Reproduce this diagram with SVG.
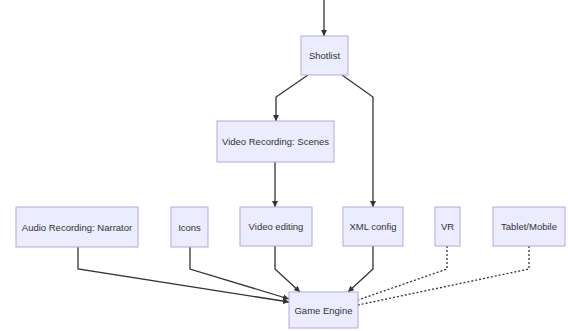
<svg xmlns="http://www.w3.org/2000/svg" width="568" height="331" viewBox="0 0 568 331">
<style>
.node rect{fill:#ECECFF;stroke:#B5A6E6;stroke-width:1}
.node text{font-family:"Liberation Sans",Arial,sans-serif;font-size:9.5px;fill:#333;text-anchor:middle;dominant-baseline:central}
.edge{fill:none;stroke:#333;stroke-width:1.3}
.dash{stroke-dasharray:2,2}
</style>
<defs>
<marker id="arr" viewBox="0 0 10 10" refX="10" refY="5" markerWidth="6" markerHeight="6" orient="auto" markerUnits="userSpaceOnUse">
<path d="M0,0 L10,5 L0,10 z" fill="#333"/>
</marker>
</defs>
<rect width="568" height="331" fill="#fff"/>
<g id="connectors">
<path class="edge" d="M324,0 L324,36" marker-end="url(#arr)"/>
<path class="edge" d="M308,75 L276,97 L276,121" marker-end="url(#arr)"/>
<path class="edge" d="M342,75 L373,97 L373,207" marker-end="url(#arr)"/>
<path class="edge" d="M275,162 L275,207" marker-end="url(#arr)"/>
<path class="edge" d="M78,247 L78,269 L289,302" marker-end="url(#arr)"/>
<path class="edge" d="M190,247 L190,269 L289,299" marker-end="url(#arr)"/>
<path class="edge" d="M275,246 L275,269 L300,292" marker-end="url(#arr)"/>
<path class="edge" d="M373,246 L373,269 L348,292" marker-end="url(#arr)"/>
<path class="edge dash" d="M447,246 L447,269 L358,300"/>
<path class="edge dash" d="M529,246 L529,269 L358,305"/>
</g>
<g id="shotlist" class="node"><rect x="301" y="36" width="47" height="39"/><text x="324.5" y="55.5">Shotlist</text></g>
<g id="videoRecording" class="node"><rect x="217" y="121" width="117" height="41"/><text x="275.5" y="141.5">Video Recording: Scenes</text></g>
<g id="audioRecording" class="node"><rect x="16" y="207" width="122" height="40"/><text x="77" y="227">Audio Recording: Narrator</text></g>
<g id="icons" class="node"><rect x="171" y="207" width="37" height="40"/><text x="189.5" y="227">Icons</text></g>
<g id="videoEditing" class="node"><rect x="240" y="207" width="72" height="39"/><text x="276" y="226.5">Video editing</text></g>
<g id="xmlConfig" class="node"><rect x="343" y="207" width="60" height="39"/><text x="373" y="226.5">XML config</text></g>
<g id="vr" class="node"><rect x="435" y="207" width="25" height="39"/><text x="447.5" y="226.5">VR</text></g>
<g id="tabletMobile" class="node"><rect x="493" y="207" width="72" height="39"/><text x="529" y="226.5">Tablet/Mobile</text></g>
<g id="gameEngine" class="node"><rect x="289" y="292" width="69" height="36"/><text x="323.5" y="310">Game Engine</text></g>
</svg>
